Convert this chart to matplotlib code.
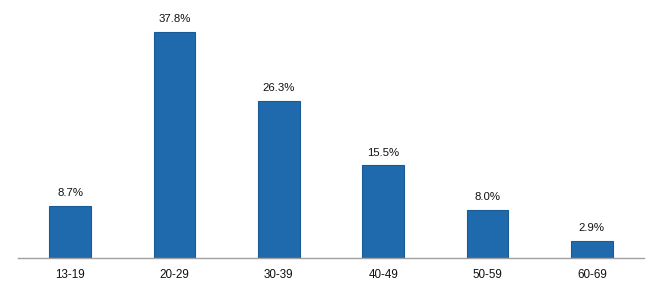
import matplotlib
matplotlib.use("Agg")
import matplotlib.pyplot as plt

categories = ["13-19", "20-29", "30-39", "40-49", "50-59", "60-69"]
values = [8.7, 37.8, 26.3, 15.5, 8.0, 2.9]
labels = ["8.7%", "37.8%", "26.3%", "15.5%", "8.0%", "2.9%"]

plt.rcParams['font.family'] = ['Liberation Sans', 'DejaVu Sans']
fig = plt.figure(figsize=(6.63, 2.89), dpi=100)
W, H = 663, 289
ax = fig.add_axes([18 / W, (H - 258) / H, (644 - 18) / W, (258 - 19) / H])
x = range(len(categories))
bars = ax.bar(x, values, width=0.4, color="#1f69ad", edgecolor="#1a5a96", linewidth=0.8)
for xi, v, lab in zip(x, values, labels):
    ax.text(xi, v + 1.3, lab, ha="center", va="bottom", fontsize=8.2, color="#111111", clip_on=False)
ax.set_xlim(-0.5, 5.5)
ax.set_ylim(0, 40)
ax.set_xticks(list(x))
ax.set_xticklabels(categories, fontsize=8.4, color="#111111")
ax.tick_params(axis="x", length=0, pad=8)
ax.set_yticks([])
for s in ["top", "right", "left"]:
    ax.spines[s].set_visible(False)
ax.spines["bottom"].set_color("#a0a0a0")
ax.spines["bottom"].set_linewidth(1.0)
fig.savefig("out.png", dpi=100)
